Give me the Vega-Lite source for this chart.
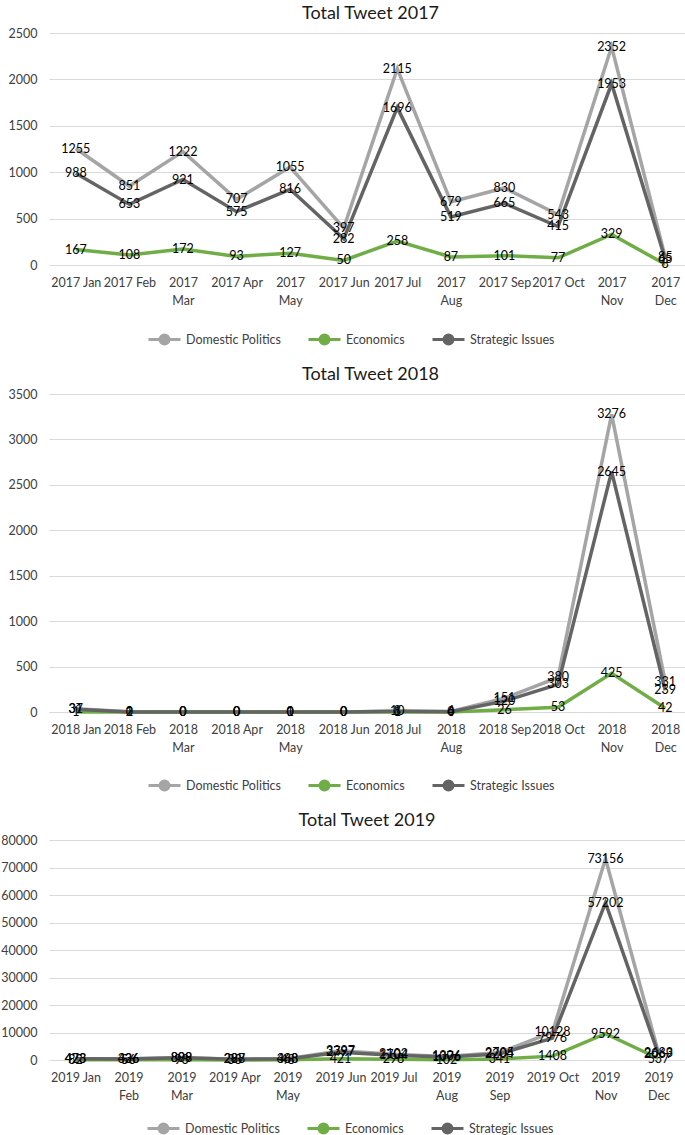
{
  "$schema": "https://vega.github.io/schema/vega-lite/v6.json",
  "padding": {"left": 0, "right": 0, "top": 5, "bottom": 0},
  "spacing": 16,
  "config": {
    "font": "Lato",
    "view": {"stroke": null},
    "title": {"fontSize": 18, "fontWeight": "normal", "color": "#1a1a1a", "font": "Lato", "offset": 4},
    "axis": {"labelFont": "Lato", "labelFontSize": 12.5, "labelColor": "#404040", "ticks": false, "title": null},
    "legend": {"labelFont": "Lato", "labelFontSize": 12.5, "labelColor": "#404040", "padding": 0}
  },
  "resolve": {"legend": {"color": "independent"}},
  "vconcat": [
    {
      "title": "Total Tweet 2017",
      "width": 643,
      "height": 232,
      "data": {"values": [
        {"m": "2017 Jan", "s": "Domestic Politics", "v": 1255},
        {"m": "2017 Feb", "s": "Domestic Politics", "v": 851},
        {"m": "2017 Mar", "s": "Domestic Politics", "v": 1222},
        {"m": "2017 Apr", "s": "Domestic Politics", "v": 707},
        {"m": "2017 May", "s": "Domestic Politics", "v": 1055},
        {"m": "2017 Jun", "s": "Domestic Politics", "v": 397},
        {"m": "2017 Jul", "s": "Domestic Politics", "v": 2115},
        {"m": "2017 Aug", "s": "Domestic Politics", "v": 679},
        {"m": "2017 Sep", "s": "Domestic Politics", "v": 830},
        {"m": "2017 Oct", "s": "Domestic Politics", "v": 543},
        {"m": "2017 Nov", "s": "Domestic Politics", "v": 2352},
        {"m": "2017 Dec", "s": "Domestic Politics", "v": 85},
        {"m": "2017 Jan", "s": "Economics", "v": 167},
        {"m": "2017 Feb", "s": "Economics", "v": 108},
        {"m": "2017 Mar", "s": "Economics", "v": 172},
        {"m": "2017 Apr", "s": "Economics", "v": 93},
        {"m": "2017 May", "s": "Economics", "v": 127},
        {"m": "2017 Jun", "s": "Economics", "v": 50},
        {"m": "2017 Jul", "s": "Economics", "v": 258},
        {"m": "2017 Aug", "s": "Economics", "v": 87},
        {"m": "2017 Sep", "s": "Economics", "v": 101},
        {"m": "2017 Oct", "s": "Economics", "v": 77},
        {"m": "2017 Nov", "s": "Economics", "v": 329},
        {"m": "2017 Dec", "s": "Economics", "v": 8},
        {"m": "2017 Jan", "s": "Strategic Issues", "v": 988},
        {"m": "2017 Feb", "s": "Strategic Issues", "v": 653},
        {"m": "2017 Mar", "s": "Strategic Issues", "v": 921},
        {"m": "2017 Apr", "s": "Strategic Issues", "v": 575},
        {"m": "2017 May", "s": "Strategic Issues", "v": 816},
        {"m": "2017 Jun", "s": "Strategic Issues", "v": 282},
        {"m": "2017 Jul", "s": "Strategic Issues", "v": 1696},
        {"m": "2017 Aug", "s": "Strategic Issues", "v": 519},
        {"m": "2017 Sep", "s": "Strategic Issues", "v": 665},
        {"m": "2017 Oct", "s": "Strategic Issues", "v": 415},
        {"m": "2017 Nov", "s": "Strategic Issues", "v": 1953},
        {"m": "2017 Dec", "s": "Strategic Issues", "v": 65}
      ]},
      "encoding": {
        "x": {"field": "m", "type": "ordinal", "sort": null,
          "scale": {"type": "point", "padding": 0.5},
          "axis": {"labelAngle": 0, "labelOverlap": false, "labelLimit": 0, "labelPadding": 11, "labelLineHeight": 18, "domainColor": "#D9D9D9", "grid": false,
            "labelExpr": "indexof(['2017 Mar','2017 May','2017 Aug','2017 Nov','2017 Dec'], datum.value) >= 0 ? split(datum.value, ' ') : datum.value"}},
        "y": {"field": "v", "type": "quantitative",
          "scale": {"domain": [0, 2500], "nice": false},
          "axis": {"values": [0, 500, 1000, 1500, 2000, 2500], "format": "d", "domain": false, "gridColor": "#D9D9D9", "labelPadding": 12}}
      },
      "layer": [
        {"mark": {"type": "line", "strokeWidth": 3.5},
         "encoding": {"color": {"field": "s", "type": "nominal",
            "scale": {"domain": ["Domestic Politics", "Economics", "Strategic Issues"], "range": ["#A5A5A5", "#70AD47", "#646464"]},
            "legend": {"title": null, "orient": "none", "legendX": 98, "legendY": 289, "direction": "horizontal", "symbolType": "M-1,0L1,0M0.28,0A0.28,0.28 0 1 1 -0.28,0A0.28,0.28 0 1 1 0.28,0", "symbolSize": 1024, "symbolStrokeWidth": 3, "columnPadding": 21, "labelOffset": 4,
              "encode": {"symbols": {"update": {"fill": {"scale": "color", "field": "value"}}}}}}}},
        {"mark": {"type": "text", "fontSize": 12.5, "color": "#000000", "font": "Lato"},
         "encoding": {"text": {"field": "v", "type": "quantitative", "format": "d"}}}
      ]
    },
    {
      "title": "Total Tweet 2018",
      "width": 643,
      "height": 318,
      "data": {"values": [
        {"m": "2018 Jan", "s": "Domestic Politics", "v": 37},
        {"m": "2018 Feb", "s": "Domestic Politics", "v": 2},
        {"m": "2018 Mar", "s": "Domestic Politics", "v": 0},
        {"m": "2018 Apr", "s": "Domestic Politics", "v": 0},
        {"m": "2018 May", "s": "Domestic Politics", "v": 1},
        {"m": "2018 Jun", "s": "Domestic Politics", "v": 0},
        {"m": "2018 Jul", "s": "Domestic Politics", "v": 10},
        {"m": "2018 Aug", "s": "Domestic Politics", "v": 6},
        {"m": "2018 Sep", "s": "Domestic Politics", "v": 151},
        {"m": "2018 Oct", "s": "Domestic Politics", "v": 380},
        {"m": "2018 Nov", "s": "Domestic Politics", "v": 3276},
        {"m": "2018 Dec", "s": "Domestic Politics", "v": 331},
        {"m": "2018 Jan", "s": "Economics", "v": 1},
        {"m": "2018 Feb", "s": "Economics", "v": 0},
        {"m": "2018 Mar", "s": "Economics", "v": 0},
        {"m": "2018 Apr", "s": "Economics", "v": 0},
        {"m": "2018 May", "s": "Economics", "v": 0},
        {"m": "2018 Jun", "s": "Economics", "v": 0},
        {"m": "2018 Jul", "s": "Economics", "v": 1},
        {"m": "2018 Aug", "s": "Economics", "v": 0},
        {"m": "2018 Sep", "s": "Economics", "v": 26},
        {"m": "2018 Oct", "s": "Economics", "v": 53},
        {"m": "2018 Nov", "s": "Economics", "v": 425},
        {"m": "2018 Dec", "s": "Economics", "v": 42},
        {"m": "2018 Jan", "s": "Strategic Issues", "v": 31},
        {"m": "2018 Feb", "s": "Strategic Issues", "v": 1},
        {"m": "2018 Mar", "s": "Strategic Issues", "v": 0},
        {"m": "2018 Apr", "s": "Strategic Issues", "v": 0},
        {"m": "2018 May", "s": "Strategic Issues", "v": 0},
        {"m": "2018 Jun", "s": "Strategic Issues", "v": 0},
        {"m": "2018 Jul", "s": "Strategic Issues", "v": 8},
        {"m": "2018 Aug", "s": "Strategic Issues", "v": 4},
        {"m": "2018 Sep", "s": "Strategic Issues", "v": 120},
        {"m": "2018 Oct", "s": "Strategic Issues", "v": 303},
        {"m": "2018 Nov", "s": "Strategic Issues", "v": 2645},
        {"m": "2018 Dec", "s": "Strategic Issues", "v": 239}
      ]},
      "encoding": {
        "x": {"field": "m", "type": "ordinal", "sort": null,
          "scale": {"type": "point", "padding": 0.5},
          "axis": {"labelAngle": 0, "labelOverlap": false, "labelLimit": 0, "labelPadding": 11, "labelLineHeight": 18, "domainColor": "#D9D9D9", "grid": false,
            "labelExpr": "indexof(['2018 Mar','2018 May','2018 Aug','2018 Nov','2018 Dec'], datum.value) >= 0 ? split(datum.value, ' ') : datum.value"}},
        "y": {"field": "v", "type": "quantitative",
          "scale": {"domain": [0, 3500], "nice": false},
          "axis": {"values": [0, 500, 1000, 1500, 2000, 2500, 3000, 3500], "format": "d", "domain": false, "gridColor": "#D9D9D9", "labelPadding": 12}}
      },
      "layer": [
        {"mark": {"type": "line", "strokeWidth": 3.5},
         "encoding": {"color": {"field": "s", "type": "nominal",
            "scale": {"domain": ["Domestic Politics", "Economics", "Strategic Issues"], "range": ["#A5A5A5", "#70AD47", "#646464"]},
            "legend": {"title": null, "orient": "none", "legendX": 98, "legendY": 374, "direction": "horizontal", "symbolType": "M-1,0L1,0M0.28,0A0.28,0.28 0 1 1 -0.28,0A0.28,0.28 0 1 1 0.28,0", "symbolSize": 1024, "symbolStrokeWidth": 3, "columnPadding": 21, "labelOffset": 4,
              "encode": {"symbols": {"update": {"fill": {"scale": "color", "field": "value"}}}}}}}},
        {"mark": {"type": "text", "fontSize": 12.5, "color": "#000000", "font": "Lato"},
         "encoding": {"text": {"field": "v", "type": "quantitative", "format": "d"}}}
      ]
    },
    {
      "title": "Total Tweet 2019",
      "width": 636,
      "height": 220,
      "data": {"values": [
        {"m": "2019 Jan", "s": "Domestic Politics", "v": 473},
        {"m": "2019 Feb", "s": "Domestic Politics", "v": 426},
        {"m": "2019 Mar", "s": "Domestic Politics", "v": 899},
        {"m": "2019 Apr", "s": "Domestic Politics", "v": 297},
        {"m": "2019 May", "s": "Domestic Politics", "v": 463},
        {"m": "2019 Jun", "s": "Domestic Politics", "v": 3397},
        {"m": "2019 Jul", "s": "Domestic Politics", "v": 2102},
        {"m": "2019 Aug", "s": "Domestic Politics", "v": 1306},
        {"m": "2019 Sep", "s": "Domestic Politics", "v": 2705},
        {"m": "2019 Oct", "s": "Domestic Politics", "v": 10128},
        {"m": "2019 Nov", "s": "Domestic Politics", "v": 73156},
        {"m": "2019 Dec", "s": "Domestic Politics", "v": 2683},
        {"m": "2019 Jan", "s": "Economics", "v": 82},
        {"m": "2019 Feb", "s": "Economics", "v": 56},
        {"m": "2019 Mar", "s": "Economics", "v": 93},
        {"m": "2019 Apr", "s": "Economics", "v": 33},
        {"m": "2019 May", "s": "Economics", "v": 48},
        {"m": "2019 Jun", "s": "Economics", "v": 421},
        {"m": "2019 Jul", "s": "Economics", "v": 298},
        {"m": "2019 Aug", "s": "Economics", "v": 102},
        {"m": "2019 Sep", "s": "Economics", "v": 341},
        {"m": "2019 Oct", "s": "Economics", "v": 1408},
        {"m": "2019 Nov", "s": "Economics", "v": 9592},
        {"m": "2019 Dec", "s": "Economics", "v": 537},
        {"m": "2019 Jan", "s": "Strategic Issues", "v": 423},
        {"m": "2019 Feb", "s": "Strategic Issues", "v": 336},
        {"m": "2019 Mar", "s": "Strategic Issues", "v": 808},
        {"m": "2019 Apr", "s": "Strategic Issues", "v": 288},
        {"m": "2019 May", "s": "Strategic Issues", "v": 388},
        {"m": "2019 Jun", "s": "Strategic Issues", "v": 2797},
        {"m": "2019 Jul", "s": "Strategic Issues", "v": 1704},
        {"m": "2019 Aug", "s": "Strategic Issues", "v": 1076},
        {"m": "2019 Sep", "s": "Strategic Issues", "v": 2204},
        {"m": "2019 Oct", "s": "Strategic Issues", "v": 7976},
        {"m": "2019 Nov", "s": "Strategic Issues", "v": 57202},
        {"m": "2019 Dec", "s": "Strategic Issues", "v": 2069}
      ]},
      "encoding": {
        "x": {"field": "m", "type": "ordinal", "sort": null,
          "scale": {"type": "point", "padding": 0.5},
          "axis": {"labelAngle": 0, "labelOverlap": false, "labelLimit": 0, "labelPadding": 11, "labelLineHeight": 18, "domainColor": "#D9D9D9", "grid": false,
            "labelExpr": "indexof(['2019 Feb','2019 Mar','2019 May','2019 Aug','2019 Sep','2019 Nov','2019 Dec'], datum.value) >= 0 ? split(datum.value, ' ') : datum.value"}},
        "y": {"field": "v", "type": "quantitative",
          "scale": {"domain": [0, 80000], "nice": false},
          "axis": {"values": [0, 10000, 20000, 30000, 40000, 50000, 60000, 70000, 80000], "format": "d", "domain": false, "gridColor": "#D9D9D9", "labelPadding": 12}}
      },
      "layer": [
        {"mark": {"type": "line", "strokeWidth": 3.5},
         "encoding": {"color": {"field": "s", "type": "nominal",
            "scale": {"domain": ["Domestic Politics", "Economics", "Strategic Issues"], "range": ["#A5A5A5", "#70AD47", "#646464"]},
            "legend": {"title": null, "orient": "none", "legendX": 97, "legendY": 271, "direction": "horizontal", "symbolType": "M-1,0L1,0M0.28,0A0.28,0.28 0 1 1 -0.28,0A0.28,0.28 0 1 1 0.28,0", "symbolSize": 1024, "symbolStrokeWidth": 3, "columnPadding": 21, "labelOffset": 4,
              "encode": {"symbols": {"update": {"fill": {"scale": "color", "field": "value"}}}}}}}},
        {"mark": {"type": "text", "fontSize": 12.5, "color": "#000000", "font": "Lato"},
         "encoding": {"text": {"field": "v", "type": "quantitative", "format": "d"}}}
      ]
    }
  ]
}
